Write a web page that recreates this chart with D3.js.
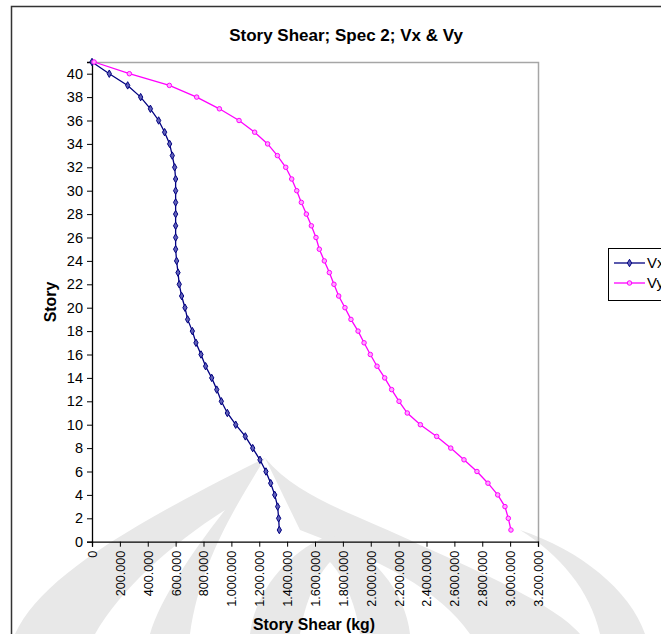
<!DOCTYPE html>
<html>
<head>
<meta charset="utf-8">
<script src="https://cdn.jsdelivr.net/npm/d3@7"></script>
<style>
  html, body { margin: 0; padding: 0; background: #fff; }
  svg { display: block; }
  text { font-family: "Liberation Sans", Arial, sans-serif; fill: #000; }
</style>
</head>
<body>
<div id="chart"></div>
<script>
// Story numbers (bottom to top)
const stories = [1, 2, 3, 4, 5, 6, 7, 8, 9, 10, 11, 12, 13, 14, 15, 16, 17, 18, 19, 20,
                 21, 22, 23, 24, 25, 26, 27, 28, 29, 30, 31, 32, 33, 34, 35, 36, 37, 38, 39, 40, 41];

// Story shear in X direction (kg)
const vx = [1344000, 1339000, 1332000, 1311000, 1282000, 1248000, 1205000, 1153000, 1100000, 1031000,
            971000, 928000, 895000, 859000, 815000, 782000, 746000, 720000, 686000, 667000,
            643000, 626000, 617000, 607000, 600000, 600000, 600000, 600000, 600000, 600000,
            600000, 593000, 576000, 557000, 521000, 478000, 419000, 349000, 256000, 124000, 0];

// Story shear in Y direction (kg)
const vy = [3006000, 2987000, 2963000, 2911000, 2841000, 2762000, 2669000, 2574000, 2473000, 2356000,
            2262000, 2203000, 2150000, 2100000, 2045000, 1997000, 1952000, 1909000, 1858000, 1815000,
            1770000, 1736000, 1703000, 1667000, 1631000, 1607000, 1574000, 1538000, 1502000, 1469000,
            1433000, 1390000, 1330000, 1260000, 1167000, 1055000, 914000, 751000, 555000, 268000, 15000];

const xTicks = [0, 200000, 400000, 600000, 800000, 1000000, 1200000, 1400000, 1600000,
                1800000, 2000000, 2200000, 2400000, 2600000, 2800000, 3000000, 3200000];
const yTicks = [0, 2, 4, 6, 8, 10, 12, 14, 16, 18, 20, 22, 24, 26, 28, 30, 32, 34, 36, 38, 40];

const seriesNames = ["Vx", "Vy"];
const chartTitle = "Story Shear; Spec 2; Vx & Vy";
const xTitle = "Story Shear (kg)";
const yTitle = "Story";

const W = 661, H = 634;
const plot = { left: 92, top: 62, right: 538, bottom: 541.7 };

const svg = d3.select("#chart").append("svg")
  .attr("width", W).attr("height", H);

// faint background emblem (page watermark)
const wm = svg.append("g").attr("fill", "#e8e8e8");
// left sweep
wm.append("path").attr("d",
  "M15,634 C40,580 120,530 265,458 C240,500 200,560 190,634 Z");
// right sweep
wm.append("path").attr("d",
  "M265,458 C300,500 360,515 420,545 C500,580 560,610 580,634 L470,634 C440,590 380,560 300,530 Z");
// centre bud
wm.append("path").attr("d",
  "M250,634 C255,590 290,550 330,535 C370,550 405,590 410,634 Z");
// outer right arc
wm.append("path").attr("d",
  "M600,634 C590,590 560,555 520,530 C580,550 630,590 645,634 Z");
const wmHole = svg.append("g").attr("fill", "#fff");
wmHole.append("path").attr("d", "M300,634 C305,600 318,575 330,562 C342,575 355,600 360,634 Z");
wmHole.append("path").attr("d", "M95,634 C120,590 170,545 225,510 C190,555 160,600 150,634 Z");

// outer chart frame
svg.append("rect")
  .attr("x", 11.5).attr("y", 6.5).attr("width", 700).attr("height", 700)
  .attr("fill", "none").attr("stroke", "#333").attr("stroke-width", 1.5);

const x = d3.scaleLinear().domain([0, 3200000]).range([plot.left, plot.right]);
const y = d3.scaleLinear().domain([0, 41]).range([plot.bottom, plot.top]);

// plot area border (top/right grey)
svg.append("path")
  .attr("d", `M${plot.left},${plot.top + 0.5}H${plot.right + 0.5}V${plot.bottom}`)
  .attr("fill", "none").attr("stroke", "#a6a6a6").attr("stroke-width", 1.5);

const fmt = v => v === 0 ? "0" : d3.format(",")(v).replace(/,/g, ".");

// x axis
const gx = svg.append("g")
  .attr("transform", `translate(0,${plot.bottom})`)
  .call(d3.axisBottom(x).tickValues(xTicks).tickSize(5).tickFormat(fmt));
gx.select(".domain").attr("stroke", "#000").attr("stroke-width", 1.3);
gx.selectAll(".tick line").attr("stroke", "#000");
gx.selectAll(".tick text")
  .attr("transform", "rotate(-90)")
  .attr("x", -9).attr("y", 0).attr("dy", "0.35em")
  .attr("text-anchor", "end")
  .style("font-size", "12.6px")
  .style("font-family", "'Liberation Sans', Arial, sans-serif");

// y axis
const gy = svg.append("g")
  .attr("transform", `translate(${plot.left},0)`)
  .call(d3.axisLeft(y).tickValues(yTicks).tickSize(5));
gy.select(".domain").attr("stroke", "#000").attr("stroke-width", 1.3);
gy.selectAll(".tick line").attr("stroke", "#000");
gy.selectAll(".tick text")
  .attr("x", -9)
  .style("font-size", "14.5px")
  .style("font-family", "'Liberation Sans', Arial, sans-serif");

// titles
svg.append("text").attr("x", 346).attr("y", 41)
  .attr("text-anchor", "middle").style("font-size", "17px").style("font-weight", "bold")
  .text(chartTitle);
svg.append("text").attr("x", 314).attr("y", 630)
  .attr("text-anchor", "middle").style("font-size", "15.8px").style("font-weight", "bold")
  .text(xTitle);
svg.append("text").attr("transform", "translate(56,302) rotate(-90)")
  .attr("text-anchor", "middle").style("font-size", "15.8px").style("font-weight", "bold")
  .text(yTitle);

// series
const series = [
  { name: seriesNames[0], values: vx, color: "#000080", fill: "#6060b8", shape: d3.symbolDiamond, size: 16 },
  { name: seriesNames[1], values: vy, color: "#ff00ff", fill: "#ffa8ff", shape: d3.symbolCircle, size: 16 }
];

const line = d3.line().x(d => x(d[0])).y(d => y(d[1]));

series.forEach(s => {
  const pts = stories.map((st, i) => [s.values[i], st]);
  svg.append("path").datum(pts)
    .attr("fill", "none").attr("stroke", s.color).attr("stroke-width", 1.3)
    .attr("d", line);
  svg.append("g").selectAll("path").data(pts).join("path")
    .attr("transform", d => `translate(${x(d[0])},${y(d[1])})`)
    .attr("d", d3.symbol().type(s.shape).size(s.size))
    .attr("fill", s.fill).attr("stroke", s.color).attr("stroke-width", 1);
});

// legend
const lg = svg.append("g").attr("transform", "translate(608,248)");
lg.append("rect").attr("x", 0.5).attr("y", 0.5).attr("width", 100).attr("height", 52)
  .attr("fill", "#fff").attr("stroke", "#000").attr("stroke-width", 1);
series.forEach((s, i) => {
  const ly = 15 + i * 20;
  lg.append("line").attr("x1", 6).attr("x2", 37).attr("y1", ly).attr("y2", ly)
    .attr("stroke", s.color).attr("stroke-width", 1.3);
  lg.append("path").attr("transform", `translate(21.5,${ly})`)
    .attr("d", d3.symbol().type(s.shape).size(s.size))
    .attr("fill", s.fill).attr("stroke", s.color);
  lg.append("text").attr("x", 39).attr("y", ly).attr("dy", "0.36em")
    .style("font-size", "15px").text(s.name);
});
</script>
</body>
</html>
